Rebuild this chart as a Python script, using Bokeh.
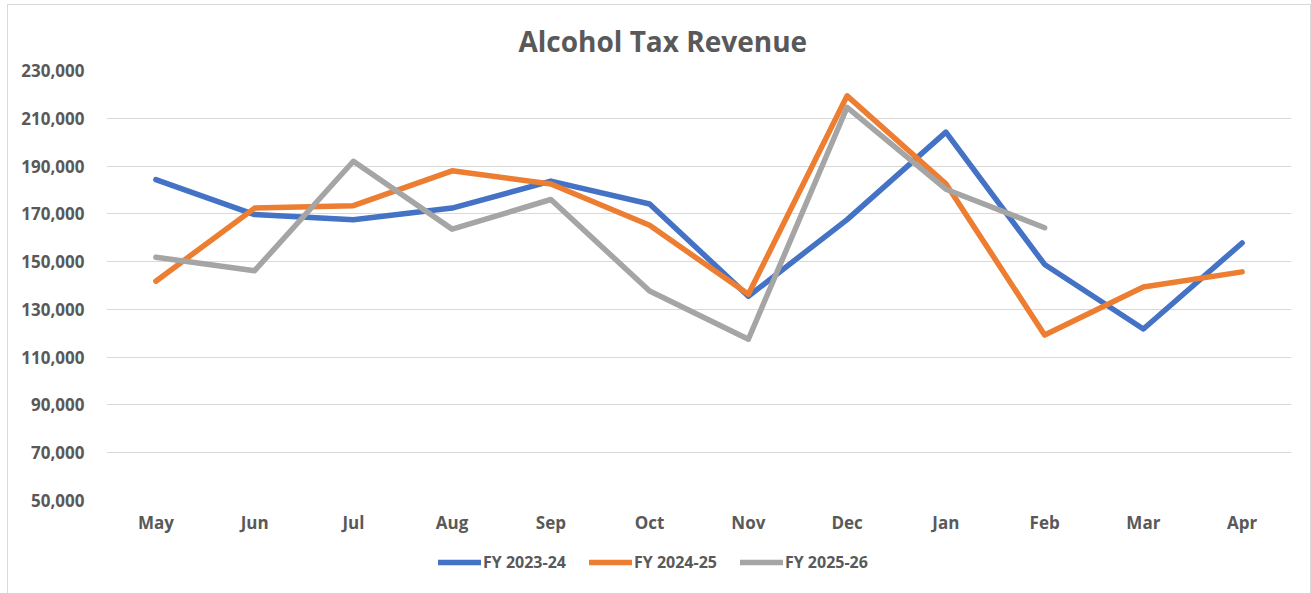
import math
from bokeh.plotting import figure
from bokeh.layouts import column
from bokeh.models import (FactorRange, Range1d, FixedTicker, NumeralTickFormatter,
                          Legend, LegendItem, ColumnDataSource)
from bokeh.embed import file_html
from bokeh.resources import INLINE

months = ["May", "Jun", "Jul", "Aug", "Sep", "Oct", "Nov", "Dec", "Jan", "Feb", "Mar", "Apr"]
fy_2023_24 = [184300, 169700, 167500, 172400, 183700, 174100, 135500, 167600, 204200, 148800, 121800, 157800]
fy_2024_25 = [141800, 172400, 173400, 188000, 182500, 165200, 136300, 219400, 182600, 119300, 139400, 145700]
fy_2025_26 = [151800, 146200, 192000, 163600, 176000, 137700, 117500, 214600, 180300, 164200, None, None]
series_names = ["FY 2023-24", "FY 2024-25", "FY 2025-26"]
y_ticks = [50000, 70000, 90000, 110000, 130000, 150000, 170000, 190000, 210000, 230000]

colors = ["#4472C4", "#ED7D31", "#A5A5A5"]
FONT = "Open Sans"
TXT = "#595959"

p = figure(x_range=FactorRange(*months, range_padding=0), y_range=Range1d(50000, 230000),
           frame_width=1185, frame_height=430, output_backend="svg", toolbar_location=None,
           min_border_left=98, min_border_right=19, min_border_top=65, min_border_bottom=40)

p.title.text = "Alcohol Tax Revenue"
p.title.align = "left"
p.title.offset = 412
p.title.text_font = FONT
p.title.text_font_size = "28px"
p.title.text_font_style = "bold"
p.title.text_color = TXT
p.title.standoff = 21

for name, vals, c in zip(series_names, [fy_2023_24, fy_2024_25, fy_2025_26], colors):
    ys = [float("nan") if v is None else v for v in vals]
    src = ColumnDataSource(dict(x=months, y=ys))
    p.line("x", "y", source=src, line_color=c, line_width=5.5,
           line_cap="round", line_join="round")

p.yaxis.ticker = FixedTicker(ticks=y_ticks)
p.yaxis.formatter = NumeralTickFormatter(format="0,0")
for ax in (p.xaxis, p.yaxis):
    ax.axis_line_color = None
    ax.major_tick_line_color = None
    ax.minor_tick_line_color = None
    ax.major_tick_out = 0
    ax.major_tick_in = 0
    ax.major_label_text_font = FONT
    ax.major_label_text_font_size = "17px"
    ax.major_label_text_font_style = "bold"
    ax.major_label_text_color = TXT
p.yaxis.major_label_standoff = 22
p.xaxis.major_label_standoff = 10
p.xgrid.grid_line_color = None
p.ygrid.grid_line_color = "#D9D9D9"
p.ygrid.grid_line_width = 1
p.ygrid.ticker = FixedTicker(ticks=y_ticks)
p.outline_line_color = None

# legend strip below the chart (its frame is aligned with the chart frame)
leg = figure(width=1302, height=53, x_range=Range1d(0, 1), y_range=Range1d(0, 1),
             output_backend="svg", toolbar_location=None,
             min_border_left=0, min_border_right=0, min_border_top=0, min_border_bottom=0)
leg.axis.visible = False
leg.grid.grid_line_color = None
leg.outline_line_color = None
items = []
for name, c in zip(series_names, colors):
    lr = leg.line(x=[float("nan")], y=[float("nan")], line_color=c, line_width=5.5,
                  line_cap="round")
    items.append(LegendItem(label=name, renderers=[lr]))
legend = Legend(items=items, orientation="horizontal", location=(332, 20),
                glyph_width=43, glyph_height=14, label_standoff=2, spacing=23,
                padding=0, margin=0, border_line_color=None, background_fill_alpha=0,
                label_text_font=FONT, label_text_font_size="16px",
                label_text_font_style="bold", label_text_color=TXT)
leg.add_layout(legend, "center")

layout = column(p, leg, spacing=0)
layout.margin = (4, 0, 0, 7)
layout.styles = {"border": "1px solid #D9D9D9"}

open("out.html", "w").write(file_html(layout, INLINE))
